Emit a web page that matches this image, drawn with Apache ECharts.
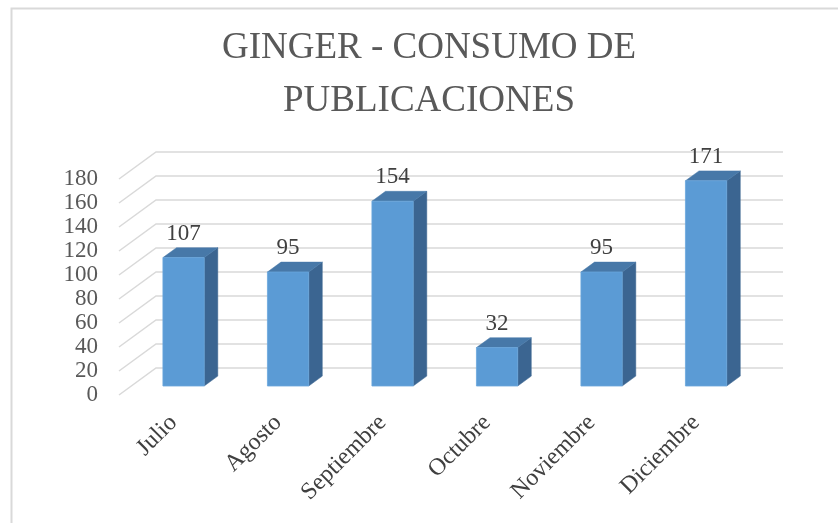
<!DOCTYPE html>
<html>
<head>
<meta charset="utf-8">
<script src="https://cdn.jsdelivr.net/npm/echarts@6/dist/echarts.min.js"></script>
<style>html,body{margin:0;padding:0;background:#fff;}#c{width:838px;height:523px;}</style>
</head>
<body>
<div id="c"></div>
<script>
const titleLines = ['GINGER - CONSUMO DE', 'PUBLICACIONES'];
const categories = ['Julio', 'Agosto', 'Septiembre', 'Octubre', 'Noviembre', 'Diciembre'];
const values = [107, 95, 154, 32, 95, 171];
const gridValues = [0, 20, 40, 60, 80, 100, 120, 140, 160, 180];

const FAMILY = 'Liberation Serif';
const DX = 37, DY = -27;          // depth vector front plane -> back wall
const FRONT_T = 0.333, BACK_T = 0.70;

const chart = echarts.init(document.getElementById('c'));

function renderGrid(params, api) {
  const cs = params.coordSys;
  const v = api.value(1);
  const y = api.coord([0, v])[1];
  const x0 = cs.x;
  return {
    type: 'polyline',
    shape: { points: [[x0, y], [x0 + DX, y + DY], [x0 + cs.width + DX, y + DY]] },
    style: { stroke: '#d9d9d9', lineWidth: 1.5, fill: null },
    silent: true
  };
}

function renderBar(params, api) {
  const i = api.value(0);
  const v = api.value(1);
  const base = api.coord([i, 0]);
  const top = api.coord([i, v]);
  const bw = api.size([1, 0])[0] * 0.395;
  const fx = DX * FRONT_T, fy = DY * FRONT_T;
  const bx = DX * BACK_T, by = DY * BACK_T;
  const cx = base[0];
  const Lf = cx + fx - bw / 2, Rf = cx + fx + bw / 2;
  const Rb = cx + bx + bw / 2, Lb = cx + bx - bw / 2;
  const tf = top[1] + fy, bf = base[1] + fy;
  const tb = top[1] + by, bb = base[1] + by;
  return {
    type: 'group',
    children: [
      { type: 'polygon', shape: { points: [[Rf, tf], [Rb, tb], [Rb, bb], [Rf, bf]] },
        style: { fill: '#3b6591', stroke: '#3b6591', lineWidth: 0.5 } },
      { type: 'polygon', shape: { points: [[Lf, tf], [Lb, tb], [Rb, tb], [Rf, tf]] },
        style: { fill: '#4778a8', stroke: '#4778a8', lineWidth: 0.5 } },
      { type: 'rect', shape: { x: Lf, y: tf, width: bw, height: bf - tf },
        style: { fill: '#5b9bd5', stroke: '#6aa6dc', lineWidth: 0.8 } },
      { type: 'text', x: cx + fx, y: tb - 14,
        style: { text: String(v), fontFamily: FAMILY, fontSize: 23, fill: '#404040', align: 'center', verticalAlign: 'middle' } },
      { type: 'text', x: cx + fx - 10, y: base[1] + 24, rotation: Math.PI / 4,
        style: { text: categories[i], fontFamily: FAMILY, fontSize: 24, fill: '#404040', align: 'right', verticalAlign: 'middle' } }
    ]
  };
}

chart.setOption({
  animation: false,
  backgroundColor: '#ffffff',
  graphic: [
    { type: 'rect', left: 9, top: 6, silent: true,
      shape: { x: 0, y: 0, width: 900, height: 600 },
      style: { fill: null, stroke: '#d9d9d9', lineWidth: 2 } },
    { type: 'text', x: 429, y: 48, silent: true,
      style: { text: titleLines[0], fontFamily: FAMILY, fontSize: 37, fill: '#595959', align: 'center', verticalAlign: 'middle' } },
    { type: 'text', x: 429, y: 101, silent: true,
      style: { text: titleLines[1], fontFamily: FAMILY, fontSize: 37, fill: '#595959', align: 'center', verticalAlign: 'middle' } }
  ],
  grid: { left: 119, right: 92, top: 179, bottom: 128, containLabel: false },
  xAxis: {
    type: 'category', data: categories,
    axisLine: { show: false }, axisTick: { show: false }, axisLabel: { show: false }, splitLine: { show: false }
  },
  yAxis: {
    type: 'value', min: 0, max: 180, interval: 20,
    axisLine: { show: false }, axisTick: { show: false }, splitLine: { show: false },
    axisLabel: { margin: 21, fontFamily: FAMILY, fontSize: 23, color: '#595959' }
  },
  series: [
    { type: 'custom', renderItem: renderGrid, data: gridValues.map(v => [0, v]), encode: { x: 0, y: 1 }, silent: true, z: 1 },
    { type: 'custom', renderItem: renderBar, data: values.map((v, i) => [i, v]), encode: { x: 0, y: 1 }, z: 2 }
  ]
});
</script>
</body>
</html>
